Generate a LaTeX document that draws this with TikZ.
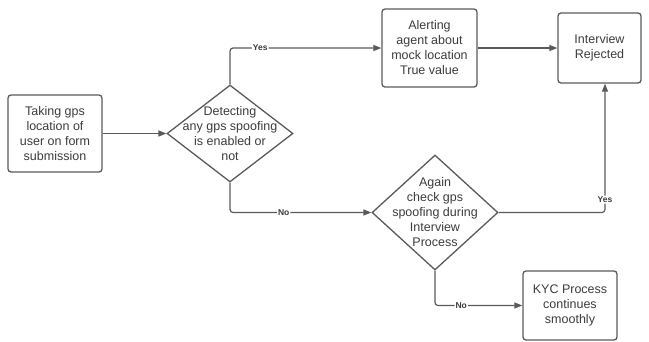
\documentclass[tikz,border=0pt]{standalone}
\usepackage{fontspec}
\setmainfont{Liberation Sans}
\usetikzlibrary{shapes.geometric,arrows.meta}
\definecolor{linec}{HTML}{5A5A5A}
\definecolor{textc}{HTML}{3C3C3C}
\begin{document}
\begin{tikzpicture}[x=1pt,y=-1pt,
  box/.style={draw=linec, line width=1.3pt, rounded corners=3pt, text=textc,
    align=center, font=\fontsize{12.5}{15}\selectfont, inner sep=2pt},
  decision/.style={draw=linec, line width=1.3pt, diamond, inner sep=0pt, text=textc,
    align=center, font=\fontsize{12.5}{15}\selectfont},
  arr/.style={draw=linec, line width=1.2pt, rounded corners=3pt,
    -{Triangle[length=8pt,width=6pt]}},
  lbl/.style={fill=white, inner sep=1pt, text=textc, font=\bfseries\fontsize{8.5}{10}\selectfont}]
\useasboundingbox (0,0) rectangle (649,341);

% process boxes
\node[box, minimum width=94pt, minimum height=77pt] (take) at (55,133.5)
  {Taking gps\\location of\\user on form\\submission};
\node[box, minimum width=95pt, minimum height=78pt] (alert) at (429.5,48)
  {Alerting\\agent about\\mock location\\True value};
\node[box, minimum width=83pt, minimum height=70pt] (rej) at (599.5,48)
  {Interview\\Rejected};
\node[box, minimum width=94pt, minimum height=69pt] (kyc) at (570,305.5)
  {KYC Process\\continues\\smoothly};

% decisions
\node[decision, minimum width=126pt, minimum height=97pt,
  label={[text=textc, align=center, font=\fontsize{12.5}{15}\selectfont]center:Detecting\\any gps spoofing\\is enabled or\\not}]
  (detect) at (230,133.5) {};
\node[decision, minimum width=126pt, minimum height=115pt,
  label={[text=textc, align=center, font=\fontsize{12.5}{15}\selectfont]center:Again\\check gps\\spoofing during\\Interview\\Process}]
  (again) at (435,212.5) {};

% connectors
\draw[arr] (take.east) -- (detect.west);
\draw[arr] (detect.north) |- node[lbl, pos=0.6]{Yes} (alert.west);
\draw[arr] (alert.east) -- (rej.west);
\draw[arr] (detect.south) |- node[lbl, pos=0.69]{No} (again.west);
\draw[arr] (again.east) -| node[lbl, pos=0.55]{Yes} ([xshift=5.5pt]rej.south);
\draw[arr] (again.south) |- node[lbl, pos=0.65]{No} (kyc.west);
\end{tikzpicture}
\end{document}
